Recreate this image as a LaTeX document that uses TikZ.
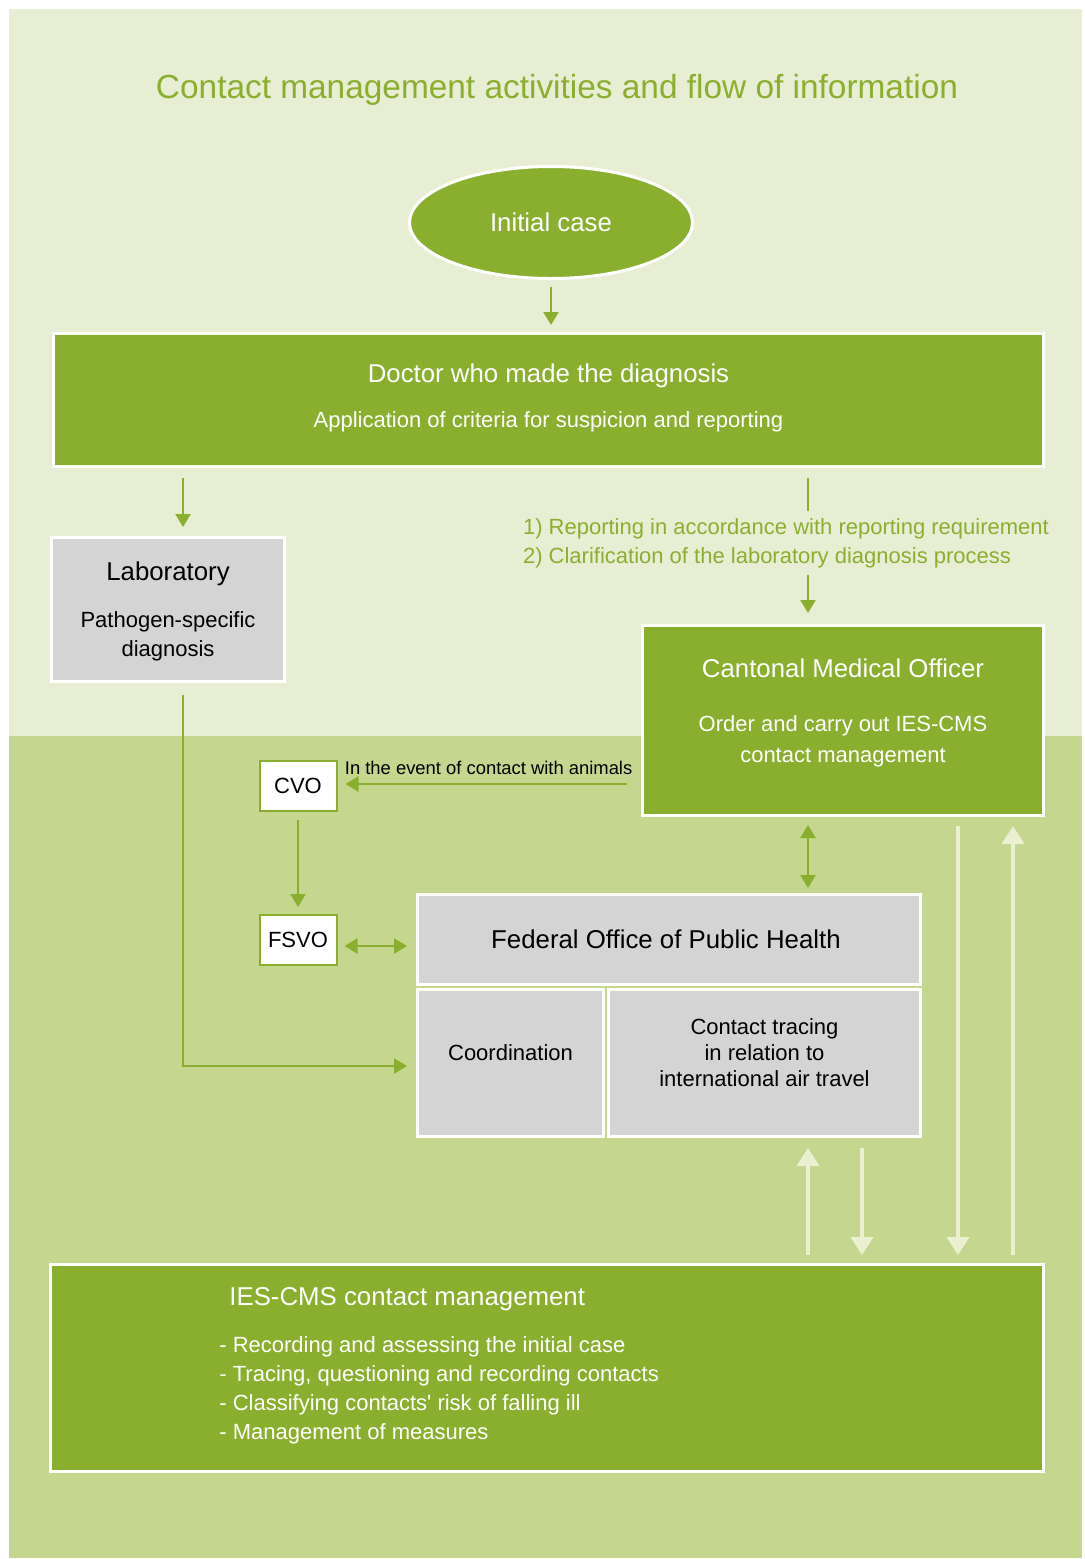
\documentclass[tikz,border=0pt]{standalone}
\usepackage{fontspec}
\setmainfont{Liberation Sans}
\setsansfont{Liberation Sans}
\usetikzlibrary{
  shapes.geometric,
  positioning,
  calc,
  arrows.meta}
\definecolor{lightbgcolor}{RGB}{232,238,212}
\definecolor{darkbgcolor}{RGB}{197,214,143}
\definecolor{boxgreen}{RGB}{138,175,47}
\definecolor{boxgrey}{RGB}{212,212,212}
\definecolor{palecolor}{RGB}{234,240,208}
\newcommand{\headsize}{\fontsize{12.9}{15.5}\selectfont}
\newcommand{\bodysize}{\fontsize{11}{14.5}\selectfont}
\tikzset{
  flow_arrow/.style={-{Triangle[width=7.5pt,length=6.5pt]}, draw=boxgreen, line width=1.2pt},
  both_arrow/.style={{Triangle[width=7.5pt,length=6.5pt]}-{Triangle[width=7.5pt,length=6.5pt]}, draw=boxgreen, line width=1.2pt},
  flow_line/.style={draw=boxgreen, line width=1.2pt},
  pale_arrow/.style={-{Triangle[width=11pt,length=9pt]}, draw=palecolor, line width=2pt}
}
\tikzset{
  %% titletext : heading of the whole figure
  titletext/.style={
    text=boxgreen,
    font=\sffamily\fontsize{16.7}{20}\selectfont
  },
  %% initialcase : the starting ellipse
  initialcase/.style={
    ellipse,
    fill=boxgreen,
    draw=white,
    line width=1.5pt,
    minimum width=141.5pt,
    minimum height=56pt,
    text=white,
    font=\sffamily\headsize
  },
  %% greenbox : an actor who acts
  greenbox/.style={
    rectangle,
    fill=boxgreen,
    draw=white,
    line width=1.5pt,
    text=white,
    align=center
  },
  %% greybox : an actor who is informed
  greybox/.style={
    rectangle,
    fill=boxgrey,
    draw=white,
    line width=1.5pt,
    text=black,
    align=center
  },
  %% agencybox : veterinary offices
  agencybox/.style={
    rectangle,
    fill=white,
    draw=boxgreen,
    line width=1pt,
    minimum width=38.5pt,
    minimum height=25pt,
    align=center
  }
}
\begin{document}
\begin{tikzpicture}
  [x=0.5pt,
  y=-0.5pt,
  font=\sffamily\bodysize]

  \useasboundingbox (0,0) rectangle (1085,1559);

  %% Background bands
  \fill [lightbgcolor] (9,9) rectangle (1082,736);
  \fill [darkbgcolor] (9,736) rectangle (1082,1558);

  \node (title) [titletext] at (557,90) {%
    Contact management activities and flow of information
  };

  %%% Main flow
  \node (initial) [initialcase] at (551,222.5) {Initial case};

  \node (doctor) [greenbox, minimum width=495pt, minimum height=66.5pt, text depth=4.8pt] at (548.5,400) {%
    {\headsize Doctor who made the diagnosis}\\[8pt]
    Application of criteria for suspicion and reporting
  };

  \node (lab) [greybox, minimum width=116.5pt, minimum height=72pt, text depth=0pt] at (168,609.5) {%
    {\headsize Laboratory}\\[9pt]
    Pathogen-specific\\diagnosis
  };

  \node (reporting) [anchor=west, align=left, text=boxgreen] at (516,543) {%
    1) Reporting in accordance with reporting requirement\\
    2) Clarification of the laboratory diagnosis process
  };

  \node (cantonal) [greenbox, minimum width=200.5pt, minimum height=95pt, text depth=10.3pt] at (843,720.5) {%
    {\headsize Cantonal Medical Officer}\\[12.5pt]
    Order and carry out IES-CMS\\[1pt]contact management
  };

  \node (cvo) [agencybox] at (298,786) {CVO};
  \node (fsvo) [agencybox, below=51pt of cvo] {FSVO};

  \node (foph) [greybox, minimum width=251.5pt, minimum height=45pt] at (669,939.5) {%
    {\headsize Federal Office of Public Health}
  };
  \node (coordination) [greybox, minimum width=93pt, minimum height=73.5pt, text depth=10pt,
    below=1pt of foph.south west, anchor=north west] {Coordination};
  \node (tracing) [greybox, minimum width=156pt, minimum height=73.5pt, text depth=10pt,
    right=1pt of coordination] {%
    Contact tracing\\[-1.5pt]in relation to\\[-1.5pt]international air travel
  };

  \node (ies) [greenbox, minimum width=496.5pt, minimum height=103.5pt] at (547,1368) {};
  \node (ies_text) [anchor=north west, inner sep=0pt, align=left, text=white] at (219,1287) {%
    \hspace*{5pt}{\headsize IES-CMS contact management}\\[9pt]
    - Recording and assessing the initial case\\
    - Tracing, questioning and recording contacts\\
    - Classifying contacts\textquotesingle{} risk of falling ill\\
    - Management of measures
  };

  %% Connections
  \draw [flow_arrow, shorten <=3.5pt, shorten >=3.5pt] (initial.south) -- (initial.south |- doctor.north);
  \draw [flow_arrow, shorten <=5pt, shorten >=4.5pt] ($(doctor.south -| lab.north)+(15,0)$) -- ($(lab.north)+(15,0)$);
  \draw [flow_arrow, shorten <=6pt, shorten >=4.5pt] ($(lab.south)+(15,0)$) |- ($(coordination.west)+(0,3)$);

  % Reporting to the cantonal medical officer
  \draw [flow_line, shorten <=5pt] ($(doctor.south -| cantonal.north)+(-35,0)$) -- ($(reporting.north -| cantonal.north)+(-35,0)$);
  \draw [flow_arrow, shorten >=5.5pt] ($(reporting.south -| cantonal.north)+(-35,0)$) -- ($(cantonal.north)+(-35,0)$);

  % Animals
  \draw [flow_arrow, shorten <=7pt, shorten >=4pt] ($(cantonal.west |- cvo.east)+(0,-2)$) -- ($(cvo.east)+(0,-2)$);
  \node (animals) [anchor=base west, inner sep=0pt, font=\sffamily\fontsize{9.2}{11}\selectfont] at ($(cvo.east)+(7,-12)$) {%
    In the event of contact with animals
  };
  \draw [flow_arrow, shorten <=4pt, shorten >=3.5pt] (cvo) -- (fsvo);
  \draw [both_arrow, shorten <=3.5pt, shorten >=4.5pt] ($(fsvo.east)+(0,6)$) -- ($(fsvo.east -| foph.west)+(0,6)$);
  \draw [both_arrow, shorten <=4pt, shorten >=2.5pt] ($(cantonal.south)+(-35,0)$) -- ($(cantonal.south |- foph.north)+(-35,0)$);

  %% Exchange with IES-CMS
  \draw [pale_arrow, shorten <=4pt, shorten >=5pt] ($(ies.north)+(261,0)$) -- ($(ies.north |- tracing.south)+(261,0)$);
  \draw [pale_arrow, shorten <=5pt, shorten >=4pt] ($(ies.north |- tracing.south)+(315,0)$) -- ($(ies.north)+(315,0)$);
  \draw [pale_arrow, shorten <=4.5pt, shorten >=4pt] ($(ies.north |- cantonal.south)+(411,0)$) -- ($(ies.north)+(411,0)$);
  \draw [pale_arrow, shorten <=4pt, shorten >=4.5pt] ($(ies.north)+(466,0)$) -- ($(ies.north |- cantonal.south)+(466,0)$);

\end{tikzpicture}
\end{document}
